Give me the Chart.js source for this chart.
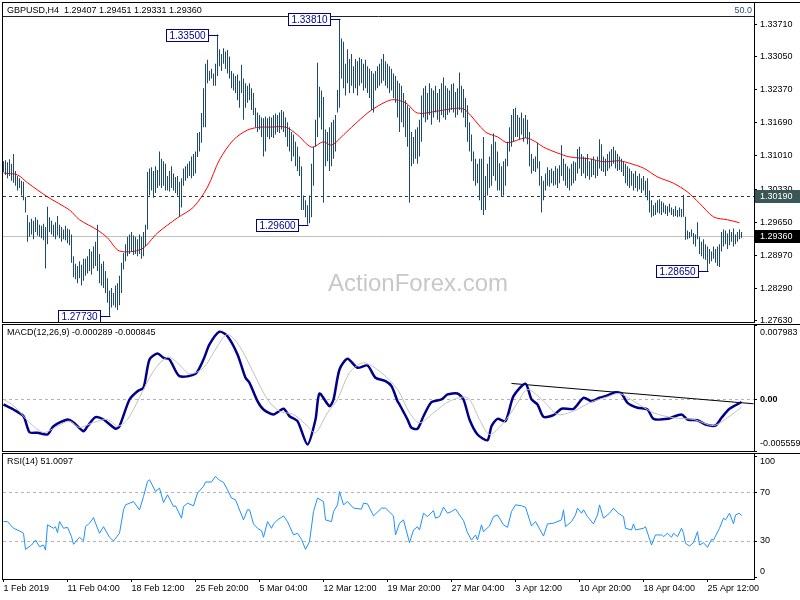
<!DOCTYPE html>
<html>
<head>
    <title>GBPUSD H4</title>
    <script src="https://cdn.jsdelivr.net/npm/chart.js"></script>
    <style>
        body { margin: 0; background: #fff; }
        #wrap { position: relative; width: 800px; height: 600px; }
        canvas { position: absolute; left: 0; }
    </style>
</head>
<body>
<div id="wrap">
    <canvas id="priceChart" width="800" height="324" style="top:0px"></canvas>
    <canvas id="macdChart" width="800" height="128" style="top:324px"></canvas>
    <canvas id="rsiChart" width="800" height="148" style="top:452px"></canvas>
</div>
<script>
// H4 bars, index 0 = 1 Feb 2019 20:00
const highs = [
    1.3090,1.3092,1.3088,1.3094,1.3085,1.3105,1.3070,1.3060,1.3055,1.3050,
    1.3048,1.3017,1.2980,1.2965,1.2972,1.2968,1.2975,1.2970,1.2960,1.2958,
    1.2962,1.2955,1.2997,1.2975,1.2968,1.2960,1.2965,1.2978,1.2960,1.2955,
    1.2950,1.2958,1.2952,1.2950,1.2940,1.2895,1.2880,1.2875,1.2885,1.2878,
    1.2890,1.2890,1.2895,1.2910,1.2905,1.2915,1.2925,1.2960,1.2900,1.2880,
    1.2885,1.2865,1.2850,1.2825,1.2830,1.2820,1.2835,1.2840,1.2855,1.2882,
    1.2902,1.2920,1.2935,1.2940,1.2945,1.2938,1.2935,1.2930,1.2940,1.2935,
    1.2945,1.2960,1.3068,1.3075,1.3078,1.3070,1.3080,1.3072,1.3110,1.3095,
    1.3090,1.3085,1.3060,1.3070,1.3080,1.3065,1.3058,1.3060,1.3048,1.3055,
    1.3075,1.3080,1.3085,1.3090,1.3100,1.3105,1.3110,1.3148,1.3150,1.3189,
    1.3240,1.3290,1.3298,1.3275,1.3280,1.3270,1.3290,1.3350,1.3320,1.3310,
    1.3322,1.3315,1.3318,1.3305,1.3275,1.3270,1.3265,1.3268,1.3255,1.3288,
    1.3260,1.3250,1.3245,1.3250,1.3240,1.3230,1.3200,1.3190,1.3185,1.3180,
    1.3178,1.3182,1.3178,1.3182,1.3180,1.3185,1.3188,1.3185,1.3190,1.3195,
    1.3192,1.3180,1.3170,1.3160,1.3150,1.3145,1.3130,1.3120,1.3100,1.3080,
    1.3020,1.3010,1.3000,1.3020,1.3085,1.3120,1.3175,1.3292,1.3243,1.3235,
    1.3222,1.3155,1.3150,1.3160,1.3170,1.3175,1.3185,1.3236,1.3381,1.3342,
    1.3335,1.3290,1.3320,1.3300,1.3310,1.3285,1.3300,1.3295,1.3303,1.3300,
    1.3290,1.3298,1.3285,1.3280,1.3275,1.3270,1.3275,1.3285,1.3290,1.3300,
    1.3310,1.3295,1.3290,1.3285,1.3280,1.3270,1.3265,1.3255,1.3250,1.3245,
    1.3230,1.3215,1.3205,1.3200,1.3150,1.3140,1.3155,1.3160,1.3175,1.3225,
    1.3240,1.3245,1.3230,1.3250,1.3240,1.3235,1.3245,1.3230,1.3238,1.3250,
    1.3262,1.3245,1.3240,1.3235,1.3248,1.3250,1.3232,1.3240,1.3272,1.3245,
    1.3238,1.3220,1.3205,1.3170,1.3145,1.3110,1.3095,1.3085,1.3095,1.3095,
    1.3140,1.3060,1.3085,1.3100,1.3125,1.3147,1.3130,1.3110,1.3086,1.3080,
    1.3090,1.3095,1.3130,1.3160,1.3185,1.3197,1.3200,1.3185,1.3180,1.3190,
    1.3178,1.3185,1.3175,1.3150,1.3105,1.3095,1.3100,1.3128,1.3090,1.3060,
    1.3050,1.3065,1.3078,1.3072,1.3075,1.3070,1.3080,1.3075,1.3082,1.3123,
    1.3095,1.3085,1.3080,1.3075,1.3085,1.3090,1.3088,1.3115,1.3120,1.3105,
    1.3100,1.3098,1.3105,1.3090,1.3095,1.3100,1.3092,1.3100,1.3135,1.3125,
    1.3100,1.3095,1.3105,1.3110,1.3115,1.3120,1.3112,1.3105,1.3100,1.3095,
    1.3090,1.3085,1.3080,1.3075,1.3070,1.3065,1.3070,1.3060,1.3065,1.3055,
    1.3060,1.3050,1.3055,1.3030,1.3010,1.3000,1.3005,1.3010,1.3012,1.3008,
    1.3005,1.3000,1.2998,1.3003,1.2995,1.2992,1.2998,1.2990,1.2995,1.2992,
    1.3021,1.2976,1.2948,1.2945,1.2950,1.2943,1.2940,1.2965,1.2935,1.2925,
    1.2930,1.2920,1.2915,1.2910,1.2905,1.2915,1.2910,1.2915,1.2920,1.2945,
    1.2950,1.2948,1.2942,1.2950,1.2945,1.2952,1.2940,1.2945,1.2950,1.29451
];
const lows = [
    1.3068,1.3062,1.3055,1.3060,1.3050,1.3046,1.3040,1.3030,1.3035,1.3020,
    1.3010,1.2985,1.2925,1.2935,1.2940,1.2930,1.2945,1.2938,1.2935,1.2932,
    1.2928,1.2870,1.2920,1.2945,1.2940,1.2935,1.2930,1.2938,1.2932,1.2925,
    1.2930,1.2928,1.2922,1.2918,1.2882,1.2852,1.2848,1.2840,1.2850,1.2835,
    1.2845,1.2855,1.2860,1.2865,1.2858,1.2870,1.2875,1.2865,1.2840,1.2835,
    1.2830,1.2820,1.2800,1.2773,1.2790,1.2795,1.2790,1.2785,1.2795,1.2820,
    1.2868,1.2885,1.2895,1.2900,1.2905,1.2898,1.2900,1.2895,1.2900,1.2890,
    1.2895,1.2915,1.2950,1.3020,1.3030,1.3015,1.3025,1.3035,1.3040,1.3035,
    1.3040,1.3030,1.3030,1.3028,1.3035,1.3030,1.3025,1.3020,1.2976,1.2995,
    1.3040,1.3050,1.3055,1.3060,1.3055,1.3060,1.3065,1.3099,1.3110,1.3128,
    1.3160,1.3160,1.3250,1.3255,1.3260,1.3245,1.3245,1.3265,1.3285,1.3275,
    1.3290,1.3280,1.3270,1.3260,1.3240,1.3235,1.3230,1.3215,1.3200,1.3230,
    1.3175,1.3200,1.3210,1.3215,1.3195,1.3185,1.3160,1.3150,1.3155,1.3140,
    1.3100,1.3110,1.3140,1.3135,1.3140,1.3138,1.3145,1.3150,1.3148,1.3155,
    1.3150,1.3140,1.3120,1.3110,1.3090,1.3100,1.3080,1.3070,1.3060,1.2990,
    1.2990,1.2975,1.2960,1.2963,1.2975,1.3040,1.3120,1.3140,1.3180,1.3155,
    1.3005,1.3080,1.3090,1.3070,1.3080,1.3095,1.3110,1.3190,1.3200,1.3260,
    1.3240,1.3225,1.3250,1.3230,1.3245,1.3230,1.3240,1.3225,1.3245,1.3250,
    1.3235,1.3240,1.3230,1.3220,1.3195,1.3190,1.3235,1.3240,1.3245,1.3250,
    1.3255,1.3245,1.3240,1.3230,1.3235,1.3220,1.3210,1.3180,1.3150,1.3170,
    1.3160,1.3140,1.3120,1.3005,1.3080,1.3085,1.3095,1.3085,1.3100,1.3130,
    1.3180,1.3170,1.3175,1.3185,1.3165,1.3180,1.3190,1.3175,1.3170,1.3185,
    1.3180,1.3175,1.3185,1.3190,1.3195,1.3190,1.3180,1.3185,1.3195,1.3190,
    1.3180,1.3160,1.3130,1.3110,1.3090,1.3050,1.3040,1.3045,1.3010,1.2990,
    1.2980,1.2990,1.3020,1.3035,1.3040,1.3060,1.3050,1.3030,1.3030,1.3017,
    1.3020,1.3040,1.3080,1.3110,1.3120,1.3130,1.3140,1.3140,1.3135,1.3145,
    1.3130,1.3138,1.3125,1.3080,1.3065,1.3070,1.3068,1.3075,1.3040,1.2985,
    1.3010,1.3030,1.3040,1.3038,1.3045,1.3040,1.3042,1.3035,1.3045,1.3060,
    1.3050,1.3040,1.3035,1.3030,1.3040,1.3045,1.3050,1.3065,1.3075,1.3060,
    1.3065,1.3055,1.3060,1.3052,1.3058,1.3062,1.3055,1.3060,1.3075,1.3070,
    1.3068,1.3060,1.3070,1.3075,1.3080,1.3085,1.3075,1.3070,1.3072,1.3068,
    1.3060,1.3045,1.3040,1.3035,1.3040,1.3030,1.3035,1.3028,1.3032,1.3025,
    1.3030,1.3020,1.3010,1.2985,1.2975,1.2978,1.2980,1.2985,1.2983,1.2980,
    1.2985,1.2982,1.2978,1.2985,1.2980,1.2976,1.2978,1.2975,1.2977,1.2975,
    1.2976,1.2929,1.2930,1.2932,1.2935,1.2920,1.2915,1.2930,1.2900,1.2895,
    1.2890,1.2888,1.2865,1.2880,1.2885,1.2890,1.2882,1.2875,1.2873,1.2905,
    1.2915,1.2920,1.2910,1.2918,1.2925,1.2915,1.2920,1.2925,1.2930,1.29331
];
const lastBar = { open: 1.29407, high: 1.29451, low: 1.29331, close: 1.29360 };

// 20-period moving average (red), read at a few bars
const maAt  = [0,7,12,22,33,38,47,52,58,69,77,87,95,102,108,115,122,128,133,141,147,154,160,164,171,177,184,194,201,207,217,227,231,241,247,252,261,266,270,277,283,293,300,308,313,320,327,335,342,348,355,362,368];
const maVal = [1.3066,1.3062,1.3046,1.3017,1.2990,1.2970,1.2949,1.2933,1.2906,1.2910,1.2943,1.2974,1.2996,1.3037,1.3093,1.3134,1.3154,1.3160,1.3160,1.3160,1.3144,1.3119,1.3130,1.3123,1.3148,1.3171,1.3195,1.3216,1.3210,1.3189,1.3193,1.3199,1.3195,1.3150,1.3140,1.3128,1.3138,1.3130,1.3119,1.3107,1.3099,1.3095,1.3089,1.3091,1.3086,1.3076,1.3058,1.3045,1.3027,1.3004,1.2976,1.2970,1.2964];

// swing labels
const swingAt    = [53, 107, 152, 168, 352];
const swingPrice = [1.27730, 1.33500, 1.29600, 1.33810, 1.28650];

const priceTicks = [1.27630,1.28290,1.28970,1.29650,1.30330,1.31010,1.31690,1.32370,1.33050,1.33710];
const dashedLevel = 1.30190;
const topLevel = 1.33870;

// MACD(12,26,9)
const macdAt  = [0,5,10,13,17,22,25,32,35,40,42,46,50,56,58,63,67,70,73,77,80,83,88,96,100,103,108,112,117,121,123,127,130,135,140,143,147,152,156,158,163,165,168,172,177,182,186,191,194,197,198,202,204,207,210,214,219,222,227,230,233,237,242,244,247,251,255,261,264,267,270,275,279,285,290,294,298,302,306,309,312,317,322,325,332,339,342,347,351,356,359,363,369];
const macdVal = [-0.00056,-0.00110,-0.00182,-0.00354,-0.00360,-0.00378,-0.00289,-0.00217,-0.00249,-0.00343,-0.00289,-0.00192,-0.00217,-0.00317,-0.00289,-0.00002,0.00087,0.00124,0.00428,0.00492,0.00446,0.00428,0.00248,0.00274,0.00428,0.00589,0.00726,0.00678,0.00482,0.00231,0.00177,-0.00020,-0.00110,-0.00163,-0.00102,-0.00182,-0.00235,-0.00486,-0.00217,0.00062,-0.00074,-0.00002,0.00320,0.00435,0.00339,0.00363,0.00231,0.00195,0.00141,-0.00020,-0.00056,-0.00217,-0.00306,-0.00317,-0.00182,-0.00031,-0.00002,0.00052,0.00062,-0.00002,-0.00217,-0.00378,-0.00440,-0.00289,-0.00210,-0.00235,0.00033,0.00167,-0.00002,-0.00056,-0.00188,-0.00171,-0.00102,-0.00102,0.00016,-0.00020,0.00016,0.00041,0.00076,0.00062,-0.00038,-0.00091,-0.00110,-0.00210,-0.00210,-0.00163,-0.00217,-0.00225,-0.00271,-0.00282,-0.00199,-0.00102,-0.000289];
const sigAt  = [0,5,13,20,27,33,38,45,52,57,62,68,75,82,87,93,100,107,112,118,125,132,138,145,152,156,162,167,173,180,188,197,203,208,215,223,232,238,243,250,257,262,270,277,285,293,302,308,315,325,335,345,355,362,369];
const sigVal = [-0.00002,-0.00067,-0.00249,-0.00357,-0.00289,-0.00235,-0.00303,-0.00249,-0.00217,-0.00289,-0.00217,0.00019,0.00302,0.00453,0.00392,0.00274,0.00339,0.00571,0.00697,0.00571,0.00285,-0.00002,-0.00128,-0.00163,-0.00289,-0.00360,-0.00145,-0.00002,0.00285,0.00392,0.00302,0.00105,-0.00145,-0.00253,-0.00145,-0.00020,0.00016,-0.00217,-0.00378,-0.00253,-0.00038,0.00105,-0.00020,-0.00163,-0.00128,-0.00038,0.00027,0.00062,-0.00020,-0.00145,-0.00199,-0.00217,-0.00282,-0.00199,-0.000845];
const macdMin = -0.005559, macdMax = 0.007983;
const trendAt = [254, 375], trendVal = [0.00170, -0.00048];

// RSI(14)
const rsiAt  = [0,2,5,8,10,11,14,16,18,20,21,22,25,26,27,28,30,32,34,35,38,40,41,43,45,46,48,50,53,55,58,60,61,65,68,70,72,73,76,78,80,82,85,86,89,90,92,95,97,100,101,104,106,108,110,112,114,116,120,122,123,125,127,129,130,132,134,135,137,140,142,145,147,149,151,153,155,157,160,161,164,165,167,168,170,172,175,179,180,182,185,189,191,195,196,198,200,203,205,207,208,210,212,215,216,218,220,222,224,226,228,230,232,234,236,237,239,240,243,245,247,250,252,254,256,259,261,264,266,270,272,275,279,280,281,284,286,287,289,290,292,295,297,298,300,303,305,307,310,311,314,315,316,320,321,324,326,329,330,332,334,335,337,339,340,341,343,345,347,348,350,352,354,355,358,360,361,363,365,366,368,369];
const rsiVal = [46,46,40.5,38.3,36.4,23.1,26.7,30.8,25.3,26.7,22.5,43.3,40.5,41.8,36.9,46,40.5,41.3,33.6,27.3,33.1,30.2,41.8,44.7,49.3,44.7,36.4,41.8,33.1,30,36.4,55.7,59.8,62.5,55.7,66.7,79.1,80.5,70.8,73.6,61.7,68.1,58.4,59,48.8,58.4,61.2,59,69.5,75,78.6,78.6,83.3,80,78.3,72.2,65.4,64,47.4,55.7,55.7,44.1,40.5,38.5,33.1,46,40.5,44.1,47.4,50.7,46,35,36.4,31.4,23.1,29.4,54.3,65.4,62.5,47.4,46,54.3,59.8,70.8,59.8,62.5,57.1,56.3,61.2,60.6,50.7,57.1,57.1,50.7,35,44.7,47.4,28.6,39.1,41.8,39.1,52.9,50.1,55.1,48.8,50.1,57.9,52.9,54.3,56.3,51.5,46.8,36.9,30.8,35,30.8,43.3,37.7,42.4,50.1,51.5,43.3,41.3,54.3,59.8,59,57.9,42.4,46,34.1,44.1,44.7,47.4,55.7,41.8,46,51.5,57.1,52.9,55.7,50.1,44.1,51.5,59.8,48.8,52.9,57.1,53.4,50.1,40.5,39.1,44.1,39.1,40.5,41.8,26.7,35,35,33.6,36.4,33.1,36.4,33.6,40.5,36.4,28.1,25.9,28.6,37.7,26.7,28.6,24.8,31.4,30.8,40.5,48.8,47.4,52.9,44.1,51.5,52.9,51.0097];

const xTickAt = [0,32,64,96,128,160,192,224,256,288,320,352];
const xTickLabels = ['1 Feb 2019','11 Feb 04:00','18 Feb 12:00','25 Feb 20:00','5 Mar 04:00','12 Mar 12:00',
    '19 Mar 20:00','27 Mar 04:00','3 Apr 12:00','10 Apr 20:00','18 Apr 04:00','25 Apr 12:00'];

const FAMILY = '"Liberation Sans", Arial, sans-serif';
const FONT = '9px ' + FAMILY;
Chart.defaults.font.family = FAMILY;
Chart.defaults.font.size = 9;
Chart.defaults.color = '#000';

const pts = (at, val) => at.map((x, i) => ({ x: x, y: val[i] }));

const xHidden = {
    type: 'linear', min: -0.25, max: 375.25, offset: false, display: false
};

const yAxis = (min, max, ticks, showLabels, fmt) => ({
    position: 'right', min: min, max: max,
    afterFit: s => { s.width = 46; s.paddingTop = 0; s.paddingBottom = 0; },
    afterBuildTicks: s => { s.ticks = ticks.map(v => ({ value: v })); },
    border: { display: true, color: '#000', width: 1 },
    grid: { drawOnChartArea: false, drawTicks: true, tickLength: 3, color: '#000' },
    ticks: { display: showLabels, padding: 3, color: '#000', font: { size: 9 }, callback: fmt }
});

const baseOpts = (padding, scales) => ({
    responsive: false, animation: false, devicePixelRatio: 1,
    layout: { padding: padding },
    plugins: { legend: { display: false }, tooltip: { enabled: false } },
    scales: scales
});

// frame lines around each pane
const frame = {
    id: 'frame',
    afterDraw(chart) {
        const { ctx, chartArea: a, width } = chart;
        ctx.save();
        ctx.strokeStyle = '#000';
        ctx.lineWidth = 1;
        ctx.beginPath();
        ctx.moveTo(2, a.top - 0.5); ctx.lineTo(width, a.top - 0.5);
        ctx.moveTo(2.5, a.top - 0.5); ctx.lineTo(2.5, a.bottom + 0.5);
        ctx.moveTo(2, a.bottom + 0.5); ctx.lineTo(a.right, a.bottom + 0.5);
        ctx.stroke();
        ctx.restore();
    }
};

const hLine = (ctx, a, py, color, dash) => {
    ctx.save();
    ctx.strokeStyle = color;
    ctx.lineWidth = 1;
    ctx.setLineDash(dash || []);
    ctx.beginPath();
    ctx.moveTo(a.left, Math.round(py) + 0.5);
    ctx.lineTo(a.right, Math.round(py) + 0.5);
    ctx.stroke();
    ctx.restore();
};

const priceDecor = {
    id: 'priceDecor',
    beforeDatasetsDraw(chart) {
        const { ctx, chartArea: a, scales: { y } } = chart;
        ctx.save();
        ctx.font = '24px ' + FAMILY;
        ctx.fillStyle = '#c8c8c8';
        ctx.textBaseline = 'middle';
        ctx.fillText('ActionForex.com', 328, 284);
        ctx.restore();
        hLine(ctx, a, y.getPixelForValue(lastBar.close), '#c0c0c0');
        hLine(ctx, a, y.getPixelForValue(dashedLevel), '#2b3b3b', [3, 3]);
        hLine(ctx, a, y.getPixelForValue(topLevel), '#222');
    },
    afterDraw(chart) {
        const { ctx, chartArea: a, scales: { x, y } } = chart;
        ctx.save();
        ctx.font = FONT;
        ctx.textBaseline = 'middle';
        ctx.fillStyle = '#000';
        ctx.fillText('GBPUSD,H4  ' + [lastBar.open, lastBar.high, lastBar.low, lastBar.close].map(v => v.toFixed(5)).join(' '), 7, a.top + 8);
        ctx.fillStyle = '#2f4f6f';
        ctx.textAlign = 'right';
        ctx.fillText('50.0', a.right - 2, y.getPixelForValue(topLevel) - 6);

        // axis boxes
        const axisBox = (v, bg) => {
            const py = Math.round(y.getPixelForValue(v));
            ctx.fillStyle = bg;
            ctx.fillRect(a.right + 1, py - 6, chart.width - a.right - 1, 13);
            ctx.fillStyle = '#fff';
            ctx.textAlign = 'left';
            ctx.fillText(v.toFixed(5), a.right + 6, py + 0.5);
        };
        axisBox(dashedLevel, '#3b5656');
        axisBox(lastBar.close, '#000');

        // swing high/low labels
        ctx.font = '10px ' + FAMILY;
        ctx.textAlign = 'center';
        swingAt.forEach((idx, k) => {
            const px = Math.round(x.getPixelForValue(idx));
            const py = Math.round(y.getPixelForValue(swingPrice[k]));
            const bx = px - 52;
            ctx.fillStyle = '#fff';
            ctx.fillRect(bx, py - 6, 42, 13);
            ctx.strokeStyle = '#00008b';
            ctx.lineWidth = 1;
            ctx.strokeRect(bx + 0.5, py - 5.5, 42, 12);
            ctx.beginPath();
            ctx.moveTo(bx + 42, py + 0.5);
            ctx.lineTo(px + 0.5, py + 0.5);
            ctx.stroke();
            ctx.fillStyle = '#00008b';
            ctx.fillText(swingPrice[k].toFixed(5), bx + 21.5, py + 1);
        });
        ctx.restore();
    }
};

const sideLabels = (items, title) => ({
    id: 'sideLabels',
    beforeDatasetsDraw(chart) {
        const { ctx, chartArea: a, scales: { y } } = chart;
        items.forEach(it => { if (it[2]) hLine(ctx, a, y.getPixelForValue(it[0]), '#b4b4b4', [3, 3]); });
    },
    afterDraw(chart) {
        const { ctx, chartArea: a, scales: { y } } = chart;
        ctx.save();
        ctx.fillStyle = '#000';
        ctx.textBaseline = 'middle';
        ctx.font = FONT;
        ctx.fillText(title, 7, a.top + 8);
        items.forEach(it => {
            const py = Math.min(Math.max(y.getPixelForValue(it[0]), a.top + 8), a.bottom - 7);
            ctx.font = (it[3] ? 'bold ' : '') + FONT;
            ctx.fillText(it[1], a.right + 6, py);
        });
        ctx.restore();
    }
});

// price pane
new Chart(document.getElementById('priceChart'), {
    type: 'line',
    data: {
        datasets: [
            {
                type: 'bar',
                data: highs.map((h, i) => ({ x: i, y: [lows[i], h] })),
                backgroundColor: '#1d4a6a',
                borderWidth: 0,
                barThickness: 1,
                inflateAmount: 0
            },
            {
                data: pts(maAt, maVal),
                borderColor: '#ff0000',
                borderWidth: 1,
                pointRadius: 0,
                tension: 0.3
            }
        ]
    },
    options: baseOpts({ top: 3, bottom: 2, left: 3, right: 0 }, {
        x: xHidden,
        y: yAxis(1.27604, 1.34146, priceTicks, true, v => v.toFixed(5))
    }),
    plugins: [priceDecor, frame]
});

// MACD pane
new Chart(document.getElementById('macdChart'), {
    type: 'line',
    data: {
        datasets: [
            { data: pts(sigAt, sigVal), borderColor: '#c0c0c0', borderWidth: 1, pointRadius: 0, tension: 0.3 },
            { data: pts(macdAt, macdVal), borderColor: '#00008b', borderWidth: 2.5, pointRadius: 0, tension: 0.25 },
            { data: pts(trendAt, trendVal), borderColor: '#000', borderWidth: 1, pointRadius: 0 }
        ]
    },
    options: baseOpts({ top: 1, bottom: 1, left: 3, right: 0 }, {
        x: xHidden,
        y: yAxis(macdMin, macdMax, [macdMin, 0, macdMax], false)
    }),
    plugins: [sideLabels([[macdMax, macdMax.toFixed(6)], [0, '0.00', true, true], [macdMin, macdMin.toFixed(6)]],
        'MACD(12,26,9) ' + macdVal[macdVal.length - 1].toFixed(6) + ' ' + sigVal[sigVal.length - 1].toFixed(6)), frame]
});

// RSI pane with time axis
new Chart(document.getElementById('rsiChart'), {
    type: 'line',
    data: {
        datasets: [
            { data: pts(rsiAt, rsiVal), borderColor: '#1e90ff', borderWidth: 1, pointRadius: 0, tension: 0 }
        ]
    },
    options: baseOpts({ top: 2, bottom: 0, left: 3, right: 0 }, {
        x: {
            type: 'linear', min: -0.25, max: 375.25, offset: false,
            afterFit: s => { s.height = 21; s.paddingLeft = 0; s.paddingRight = 0; },
            afterBuildTicks: s => { s.ticks = xTickAt.map(v => ({ value: v })); },
            border: { display: true, color: '#000', width: 1 },
            grid: { drawOnChartArea: false, drawTicks: true, tickLength: 3, color: '#000', offset: false },
            ticks: { autoSkip: false, maxRotation: 0, minRotation: 0, align: 'start', padding: 1, color: '#000',
                font: { size: 9 }, callback: (v, i) => xTickLabels[i] }
        },
        y: yAxis(-1.3, 101.7, [0, 30, 70, 100], false)
    }),
    plugins: [sideLabels([[100, '100'], [70, '70', true], [30, '30', true], [0, '0']],
        'RSI(14) ' + rsiVal[rsiVal.length - 1].toFixed(4)), frame]
});
</script>
</body>
</html>
